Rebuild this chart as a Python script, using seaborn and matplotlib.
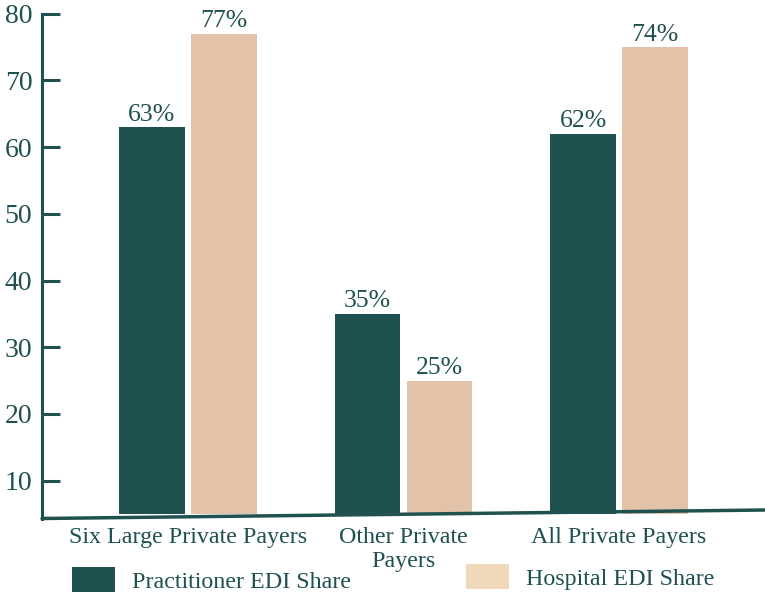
import matplotlib
matplotlib.use("Agg")
import matplotlib.pyplot as plt
import seaborn as sns
import pandas as pd
from matplotlib.patches import Patch
from matplotlib.lines import Line2D

categories = ["Six Large Private Payers", "Other Private\nPayers", "All Private Payers"]
series_names = ["Practitioner EDI Share", "Hospital EDI Share"]
practitioner = [63, 35, 62]
hospital = [77, 25, 75]
practitioner_labels = ["63%", "35%", "62%"]
hospital_labels = ["77%", "25%", "74%"]
y_ticks = [10, 20, 30, 40, 50, 60, 70, 80]

DARK = "#1f5150"
LIGHT = "#e2c2a8"
LEGEND_LIGHT = "#f0d9bb"

sns.set_theme(style="white")
plt.rcParams["font.family"] = ["Liberation Serif", "DejaVu Serif"]

df = pd.DataFrame({
    "category": categories * 2,
    "series": [series_names[0]] * 3 + [series_names[1]] * 3,
    "value": practitioner + hospital,
})

fig = plt.figure(figsize=(7.65, 5.97), dpi=100)
ax = fig.add_axes([42 / 765, 1 - 514 / 597, 1 - 42 / 765, (514 - 13.7) / 597])

sns.barplot(data=df, x="category", y="value", hue="series", order=categories,
            hue_order=series_names, palette=[DARK, LIGHT], width=0.668, gap=0.084,
            linewidth=0, saturation=1, legend=False, ax=ax)

for cont, labs in zip(ax.containers, [practitioner_labels, hospital_labels]):
    ax.bar_label(cont, labels=labs, padding=1, fontsize=18.5, color=DARK)

ax.set_ylim(5, 80)
ax.set_xlim(-0.677, 2.677)
ax.set_yticks(y_ticks)
ax.set_xlabel("")
ax.set_ylabel("")
ax.tick_params(axis="y", direction="in", length=13, width=2.2, color=DARK,
               labelsize=20, labelcolor=DARK, pad=7, left=True)
ax.tick_params(axis="x", length=0, labelsize=17.3, labelcolor=DARK, pad=9.5)
for s in ["top", "right", "bottom"]:
    ax.spines[s].set_visible(False)
ax.spines["left"].set_color(DARK)
ax.spines["left"].set_linewidth(2.2)
ax.spines["left"].set_bounds(4.3, 80)

# slightly tilted baseline
line = Line2D([0.0, 1.0], [-0.009, 0.008], transform=ax.transAxes, color=DARK,
              linewidth=2.5, clip_on=False)
ax.add_line(line)

handles = [Patch(facecolor=DARK, edgecolor="none"), Patch(facecolor=LEGEND_LIGHT, edgecolor="none")]
leg1 = fig.legend([handles[0]], [series_names[0]], loc="center left",
                  bbox_to_anchor=(65 / 765, 1 - 580 / 597), frameon=False,
                  fontsize=17.3, handlelength=1.78, handleheight=1.23, handletextpad=0.72,
                  borderaxespad=0, borderpad=0.3)
for t in leg1.get_texts():
    t.set_color(DARK)
leg2 = fig.legend([handles[1]], [series_names[1]], loc="center left",
                  bbox_to_anchor=(459 / 765, 1 - 577 / 597), frameon=False,
                  fontsize=17.3, handlelength=1.78, handleheight=1.23, handletextpad=0.72,
                  borderaxespad=0, borderpad=0.3)
for t in leg2.get_texts():
    t.set_color(DARK)

fig.savefig("out.png", dpi=100)
